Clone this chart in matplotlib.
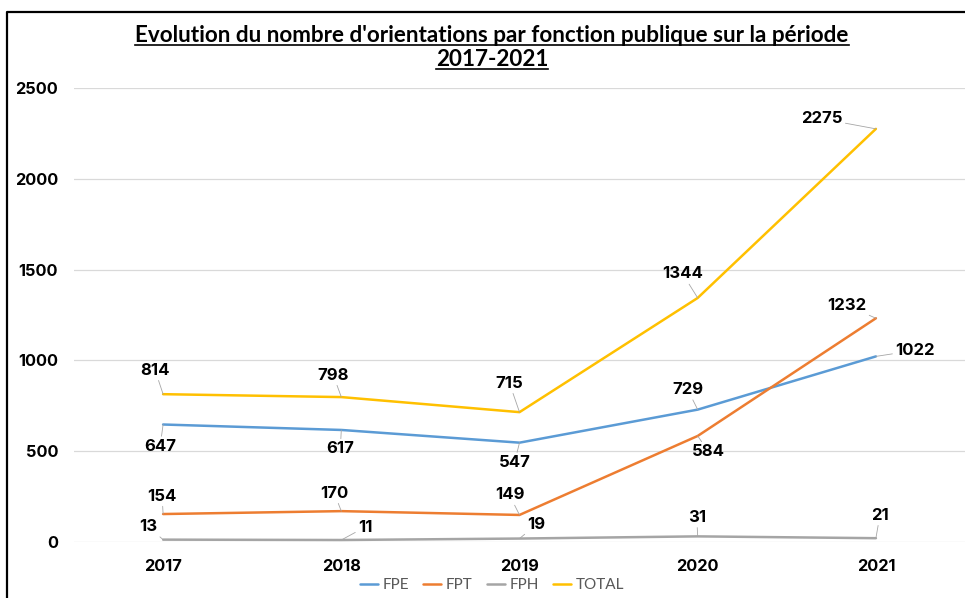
import matplotlib.pyplot as plt
from matplotlib.lines import Line2D

years = ['2017', '2018', '2019', '2020', '2021']
fpe = [647, 617, 547, 729, 1022]
fpt = [154, 170, 149, 584, 1232]
fph = [13, 11, 19, 31, 21]
total = [814, 798, 715, 1344, 2275]

# label offsets in pixels (dx, dy), dy upward
off_fpe = [(-3, -22), (-1, -19), (-5, -20), (-10, 20), (39, 6)]
off_fpt = [(-1, 18), (-7, 18), (-10, 20), (11, -16), (-29, 13)]
off_fph = [(-15, 13), (24, 13), (17, 14), (-1, 19), (4, 23)]
off_total = [(-8, 24), (-8, 22), (-10, 29), (-15, 24), (-54, 10)]

plt.rcParams['font.family'] = ['Inter', 'DejaVu Sans']

fig = plt.figure(figsize=(9.65, 5.98), dpi=100)
ax = fig.add_axes([74 / 965, 56 / 598, 891 / 965, 454 / 598])

series = [
    ('FPE', fpe, '#5B9BD5', off_fpe),
    ('FPT', fpt, '#ED7D31', off_fpt),
    ('FPH', fph, '#A5A5A5', off_fph),
    ('TOTAL', total, '#FFC000', off_total),
]
x = list(range(len(years)))
for name, vals, col, offs in series:
    ax.plot(x, vals, color=col, lw=1.8, label=name, solid_capstyle='round')
    for xi, v, (dx, dy) in zip(x, vals, offs):
        ax.annotate(str(v), (xi, v), xytext=(dx, dy), textcoords='offset pixels',
                    ha='center', va='center', fontsize=12, fontweight='bold',
                    color='black',
                    arrowprops=dict(arrowstyle='-', color='#A6A6A6', lw=0.6,
                                    shrinkA=0, shrinkB=0))

ax.set_xlim(-0.5, 4.5)
ax.set_ylim(0, 2500)
ax.set_xticks(x)
ax.set_xticklabels(years)
ax.set_yticks([0, 500, 1000, 1500, 2000, 2500])
ax.tick_params(length=0, labelsize=11.8)
for lab in ax.get_xticklabels() + ax.get_yticklabels():
    lab.set_fontweight('bold')
ax.tick_params(axis='y', pad=11.5)
ax.tick_params(axis='x', pad=12)
ax.grid(axis='y', color='#D9D9D9', lw=0.9)
ax.set_axisbelow(True)
for s in ax.spines.values():
    s.set_visible(False)

leg = ax.legend(loc='center', bbox_to_anchor=(492 / 965, 13 / 598),
                bbox_transform=fig.transFigure, ncol=4, frameon=False,
                prop={'family': 'Lato', 'size': 11},
                handlelength=1.2, handletextpad=0.3, columnspacing=0.9)
for t in leg.get_texts():
    t.set_color('#595959')

# title, two underlined lines
title_kw = dict(ha='center', va='center', fontsize=16.2, fontweight='bold',
                family=['Lato', 'DejaVu Sans'])
t1 = fig.text(492 / 965, 1 - 36 / 598,
              "Evolution du nombre d'orientations par fonction publique sur la période",
              **title_kw)
t2 = fig.text(492 / 965, 1 - 60 / 598, '2017-2021', **title_kw)
fig.canvas.draw()
r = fig.canvas.get_renderer()
for t in (t1, t2):
    bb = t.get_window_extent(r)
    yl = bb.y0 + 2
    fig.add_artist(Line2D([bb.x0 / 965, bb.x1 / 965], [yl / 598, yl / 598],
                          transform=fig.transFigure, color='black', lw=1.2))

# outer border (left and top)
fig.add_artist(Line2D([7 / 965, 7 / 965, 1], [0, 1 - 12 / 598, 1 - 12 / 598],
                      transform=fig.transFigure, color='black', lw=1.6))

fig.savefig('out.png', dpi=100)
